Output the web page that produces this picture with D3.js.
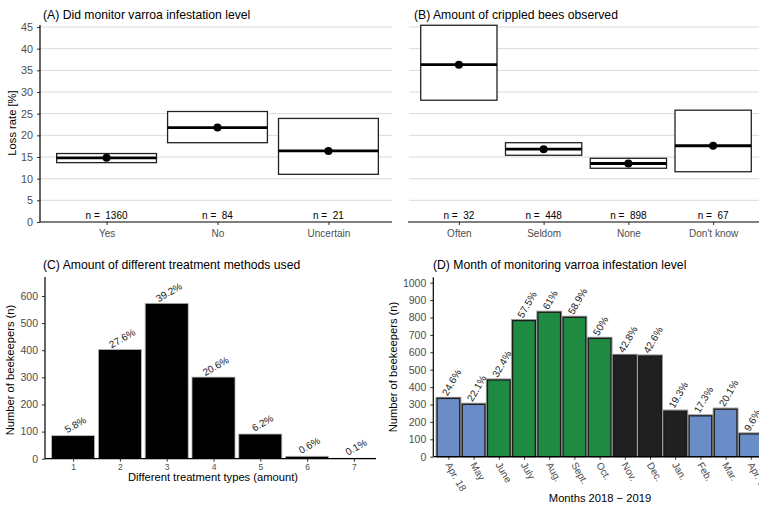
<!DOCTYPE html>
<html>
<head>
<meta charset="utf-8">
<script src="https://d3js.org/d3.v7.min.js"></script>
<style>
  body { margin: 0; background: #fff; }
  svg { display: block; font-family: "Liberation Sans", Arial, sans-serif; }
  .tick text { fill: #4d4d4d; }
</style>
</head>
<body>
<svg id="chart" width="759" height="505"></svg>
<script>
// panel A: did monitor varroa
const monitorCats = ["Yes", "No", "Uncertain"];
const monitorN = [1360, 84, 21];
const monitorMean = [14.8, 21.8, 16.4];
const monitorLow = [13.7, 18.3, 11.0];
const monitorHigh = [15.8, 25.5, 23.9];

// panel B: crippled bees
const crippledCats = ["Often", "Seldom", "None", "Don't know"];
const crippledN = [32, 448, 898, 67];
const crippledMean = [36.3, 16.8, 13.5, 17.6];
const crippledLow = [28.1, 15.4, 12.4, 11.6];
const crippledHigh = [45.4, 18.3, 14.7, 25.8];

// panel C: number of treatment methods
const treatTypes = [1, 2, 3, 4, 5, 6, 7];
const treatCount = [85, 403, 573, 301, 91, 9, 2];
const treatPct = ["5.8%", "27.6%", "39.2%", "20.6%", "6.2%", "0.6%", "0.1%"];

// panel D: month of monitoring
const months = ["Apr. 18", "May", "June", "July", "Aug.", "Sept.", "Oct.", "Nov.", "Dec.", "Jan.", "Feb.", "Mar.", "Apr. 19"];
const monthCount = [335, 301, 441, 782, 830, 801, 680, 582, 579, 262, 235, 273, 131];
const monthPct = ["24.6%", "22.1%", "32.4%", "57.5%", "61%", "58.9%", "50%", "42.8%", "42.6%", "19.3%", "17.3%", "20.1%", "9.6%"];
const monthSeason = ["spring", "spring", "summer", "summer", "summer", "summer", "summer", "winter", "winter", "winter", "spring", "spring", "spring"];

const seasonColor = { spring: "#6a8dc8", summer: "#1f8b42", winter: "#202020" };

const svg = d3.select("#chart");

function title(x, y, txt) {
  svg.append("text").attr("x", x).attr("y", y)
    .attr("font-size", 12.2).attr("fill", "#000").text(txt);
}

function yTitle(x, y, txt) {
  svg.append("text").attr("transform", `translate(${x},${y}) rotate(-90)`)
    .attr("text-anchor", "middle").attr("font-size", 11.2).attr("fill", "#000").text(txt);
}

// ---------- A and B: loss rate boxes ----------
const yLoss = d3.scaleLinear().domain([0, 45]).range([222, 27]);

function lossPanel(opts) {
  const x = d3.scalePoint().domain(opts.cats).range(opts.xr).padding(0.6);
  const bw = x.step() * 0.9;
  const g = svg.append("g");

  // grid
  g.selectAll("line.grid").data(d3.range(5, 50, 5)).join("line")
    .attr("x1", opts.gridX[0]).attr("x2", opts.gridX[1])
    .attr("y1", d => yLoss(d)).attr("y2", d => yLoss(d))
    .attr("stroke", "#d6d6d6").attr("stroke-width", 0.9);

  if (opts.yaxis) {
    const ax = g.append("g").attr("transform", `translate(${opts.xr[0]},0)`)
      .call(d3.axisLeft(yLoss).tickValues(d3.range(0, 50, 5)).tickSize(3).tickSizeOuter(0));
    ax.select(".domain").remove();
    ax.selectAll(".tick text").attr("font-size", 10.8).attr("dx", -1);
    ax.selectAll(".tick line").attr("stroke", "#333");
    g.append("line").attr("x1", opts.xr[0]).attr("x2", opts.xr[0])
      .attr("y1", 25).attr("y2", 222).attr("stroke", "#000").attr("stroke-width", 1.2);
  }

  const xa = g.append("g").attr("transform", "translate(0,222)")
    .call(d3.axisBottom(x).tickSize(3).tickSizeOuter(0));
  xa.select(".domain").remove();
  xa.selectAll(".tick text").attr("font-size", 10).attr("fill", "#333").attr("dy", "0.9em");
  xa.selectAll(".tick line").attr("stroke", "#333");
  g.append("line").attr("x1", opts.xr[0]).attr("x2", opts.axisEnd)
    .attr("y1", 222).attr("y2", 222).attr("stroke", "#000").attr("stroke-width", 1.2);

  const data = opts.cats.map((c, i) => ({ c, n: opts.n[i], m: opts.mean[i], lo: opts.low[i], hi: opts.high[i] }));

  g.selectAll("rect.box").data(data).join("rect")
    .attr("x", d => x(d.c) - bw / 2).attr("width", bw)
    .attr("y", d => yLoss(d.hi)).attr("height", d => yLoss(d.lo) - yLoss(d.hi))
    .attr("fill", "#fff").attr("stroke", "#222").attr("stroke-width", 1.3);
  g.selectAll("line.med").data(data).join("line")
    .attr("x1", d => x(d.c) - bw / 2).attr("x2", d => x(d.c) + bw / 2)
    .attr("y1", d => yLoss(d.m)).attr("y2", d => yLoss(d.m))
    .attr("stroke", "#000").attr("stroke-width", 2.8);
  g.selectAll("circle").data(data).join("circle")
    .attr("cx", d => x(d.c)).attr("cy", d => yLoss(d.m)).attr("r", 4).attr("fill", "#000");
  g.selectAll("text.n").data(data).join("text")
    .attr("x", d => x(d.c)).attr("y", 219).attr("text-anchor", "middle")
    .attr("font-size", 10).attr("fill", "#000").attr("xml:space", "preserve")
    .text(d => "n =  " + d.n);
}

lossPanel({ cats: monitorCats, n: monitorN, mean: monitorMean, low: monitorLow, high: monitorHigh,
  xr: [40, 395], gridX: [40, 392], axisEnd: 392, yaxis: true });
lossPanel({ cats: crippledCats, n: crippledN, mean: crippledMean, low: crippledLow, high: crippledHigh,
  xr: [408, 764], gridX: [409, 759], axisEnd: 759, yaxis: false });

title(43, 18.5, "(A) Did monitor varroa infestation level");
title(414, 18.5, "(B) Amount of crippled bees observed");
yTitle(16, 123, "Loss rate [%]");

// ---------- C: treatment types ----------
{
  const x = d3.scalePoint().domain(treatTypes).range([45, 382]).padding(0.6);
  const bw = x.step() * 0.92;
  const y = d3.scaleLinear().domain([0, 670]).range([458.7, 277]);
  const g = svg.append("g");
  const data = treatTypes.map((t, i) => ({ t, v: treatCount[i], p: treatPct[i] }));

  g.selectAll("rect").data(data).join("rect")
    .attr("x", d => x(d.t) - bw / 2).attr("width", bw)
    .attr("y", d => y(d.v)).attr("height", d => y(0) - y(d.v))
    .attr("fill", "#000").attr("stroke", "#bdbdbd").attr("stroke-width", 0.8);

  g.selectAll("text.pct").data(data).join("text")
    .attr("transform", d => `translate(${x(d.t) + 4},${y(d.v) - 8}) rotate(-30)`)
    .attr("text-anchor", "middle").attr("font-size", 10).attr("fill", "#222")
    .text(d => d.p);

  const ya = g.append("g").attr("transform", "translate(45,0)")
    .call(d3.axisLeft(y).tickValues(d3.range(0, 700, 100)).tickSize(3));
  ya.select(".domain").remove();
  ya.selectAll(".tick text").attr("font-size", 10.5).attr("dx", -1);
  ya.selectAll(".tick line").attr("stroke", "#333");
  g.append("line").attr("x1", 45).attr("x2", 45).attr("y1", 277).attr("y2", 458.7)
    .attr("stroke", "#000").attr("stroke-width", 1.2);

  const xa = g.append("g").attr("transform", "translate(0,458.7)")
    .call(d3.axisBottom(x).tickSize(3));
  xa.select(".domain").remove();
  xa.selectAll(".tick text").attr("font-size", 8.5).attr("fill", "#333").attr("y", 11).attr("dy", 0);
  xa.selectAll(".tick line").attr("stroke", "#333");
  g.append("line").attr("x1", 45).attr("x2", 376).attr("y1", 458.7).attr("y2", 458.7)
    .attr("stroke", "#000").attr("stroke-width", 1.2);

  title(43, 268.5, "(C) Amount of different treatment methods used");
  yTitle(14, 370, "Number of beekeepers (n)");
  svg.append("text").attr("x", 213).attr("y", 480.5).attr("text-anchor", "middle")
    .attr("font-size", 11.2).attr("fill", "#000").text("Different treatment types (amount)");
}

// ---------- D: monitoring month ----------
{
  const x = d3.scalePoint().domain(months).range([433.3, 433.3 + 25.2 * 13.2]).padding(0.6);
  const bw = x.step() * 0.9;
  const y = d3.scaleLinear().domain([0, 1031]).range([456.7, 277.3]);
  const g = svg.append("g");
  const data = months.map((m, i) => ({ m, v: monthCount[i], p: monthPct[i], s: monthSeason[i] }));

  g.selectAll("rect.halo").data(data).join("rect")
    .attr("x", d => x(d.m) - bw / 2 - 1).attr("width", bw + 2)
    .attr("y", d => y(d.v) - 1).attr("height", d => y(0) - y(d.v) + 1)
    .attr("fill", "none").attr("stroke", "#9a9a9a").attr("stroke-width", 1.2);
  g.selectAll("rect.bar").data(data).join("rect")
    .attr("x", d => x(d.m) - bw / 2).attr("width", bw)
    .attr("y", d => y(d.v)).attr("height", d => y(0) - y(d.v))
    .attr("fill", d => seasonColor[d.s]).attr("stroke", "#1a1a1a").attr("stroke-width", 1.3);

  g.selectAll("text.pct").data(data).join("text")
    .attr("transform", d => `translate(${x(d.m) - 1},${y(d.v) - 2}) rotate(-60)`)
    .attr("text-anchor", "start").attr("font-size", 10).attr("fill", "#222")
    .text(d => d.p);

  const ya = g.append("g").attr("transform", "translate(433.3,0)")
    .call(d3.axisLeft(y).tickValues(d3.range(0, 1100, 100)).tickFormat(d3.format("d")).tickSize(3));
  ya.select(".domain").remove();
  ya.selectAll(".tick text").attr("font-size", 10.5).attr("dx", -1);
  ya.selectAll(".tick line").attr("stroke", "#333");
  g.append("line").attr("x1", 433.3).attr("x2", 433.3).attr("y1", 277.3).attr("y2", 456.7)
    .attr("stroke", "#000").attr("stroke-width", 1.2);

  const xa = g.append("g").attr("transform", "translate(0,456.7)")
    .call(d3.axisBottom(x).tickSize(3));
  xa.select(".domain").remove();
  xa.selectAll(".tick text").attr("font-size", 10).attr("fill", "#333")
    .attr("text-anchor", "start").attr("dy", 0).attr("y", 0)
    .attr("transform", "translate(-4,8) rotate(60)");
  xa.selectAll(".tick line").attr("stroke", "#333");
  g.append("line").attr("x1", 433.3).attr("x2", 759).attr("y1", 456.7).attr("y2", 456.7)
    .attr("stroke", "#000").attr("stroke-width", 1.2);

  title(433, 268.5, "(D) Month of monitoring varroa infestation level");
  yTitle(397, 367, "Number of beekeepers (n)");
  svg.append("text").attr("x", 600).attr("y", 502).attr("text-anchor", "middle")
    .attr("font-size", 11.2).attr("fill", "#000").text("Months 2018 \u2212 2019");
}
</script>
</body>
</html>
